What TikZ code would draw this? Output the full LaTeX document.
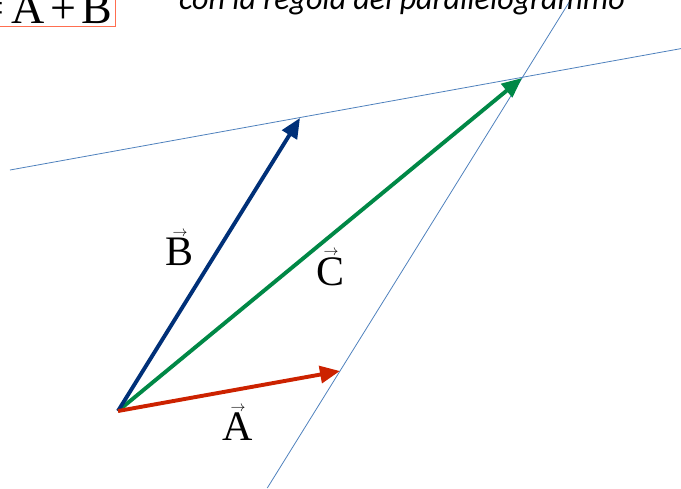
\documentclass[tikz,border=0pt]{standalone}
\usepackage{fontspec}
\setmainfont{Liberation Serif}
\newfontfamily\titlefont{Carlito}
\usetikzlibrary{arrows.meta}
\definecolor{vred}{RGB}{204,34,0}
\definecolor{vblue}{RGB}{0,48,120}
\definecolor{vgreen}{RGB}{0,136,70}
\definecolor{thinblue}{RGB}{79,129,189}
\definecolor{boxred}{RGB}{255,110,80}
\newcommand{\myvecarrow}[1]{\ensuremath{\mathord{\vbox{\offinterlineskip\halign{\hfil##\hfil\cr
  \scalebox{0.6}{$\mathord{\rightarrow}$}\cr\noalign{\kern0.04em}\hbox{#1}\cr}}}}}
\tikzset{
  vec/.style={line width=3.9pt, -{Triangle[length=20pt,width=17pt]}, draw=#1},
  guide/.style={draw=thinblue, line width=0.8pt},
  lbl/.style={font=\fontsize{42}{44}\selectfont, inner sep=0pt},
}
\begin{document}
\begin{tikzpicture}[x=1pt,y=-1pt]
\useasboundingbox (0,0) rectangle (681,488);
\clip (0,0) rectangle (681,488);
\coordinate (O) at (118,411);
\coordinate (A) at (340,371);
\coordinate (B) at (300,118);
\coordinate (C) at (522,78);
\coordinate (g1s) at (10,170);
\coordinate (g1e) at (681,48.6);
\coordinate (g2s) at (267.3,488);
\coordinate (g2e) at (570.5,0);
\draw[guide] (g1s) -- (g1e);
\draw[guide] (g2s) -- (g2e);
\draw[vec=vgreen] (O) -- (C);
\draw[vec=vblue] (O) -- (B);
\draw[vec=vred] (O) -- (A);
\node[lbl] (la) at (238,423) {\myvecarrow{A}};
\node[lbl] (lb) at (180,248) {\myvecarrow{B}};
\node[lbl] (lc) at (331,268) {\myvecarrow{C}};
\node[draw=boxred, line width=0.8pt, anchor=south east, inner sep=3pt, font=\fontsize{46}{48}\selectfont] (eq) at (116,27) {$\myvecarrow{C}\mathrel{\hbox{=}}\myvecarrow{A}\mathbin{\hbox{+}}\myvecarrow{B}$};
\node[anchor=base, font=\titlefont\itshape\fontsize{32}{34}\selectfont, inner sep=0pt] (title) at (402,9) {con la regola del parallelogrammo};
\end{tikzpicture}
\end{document}
